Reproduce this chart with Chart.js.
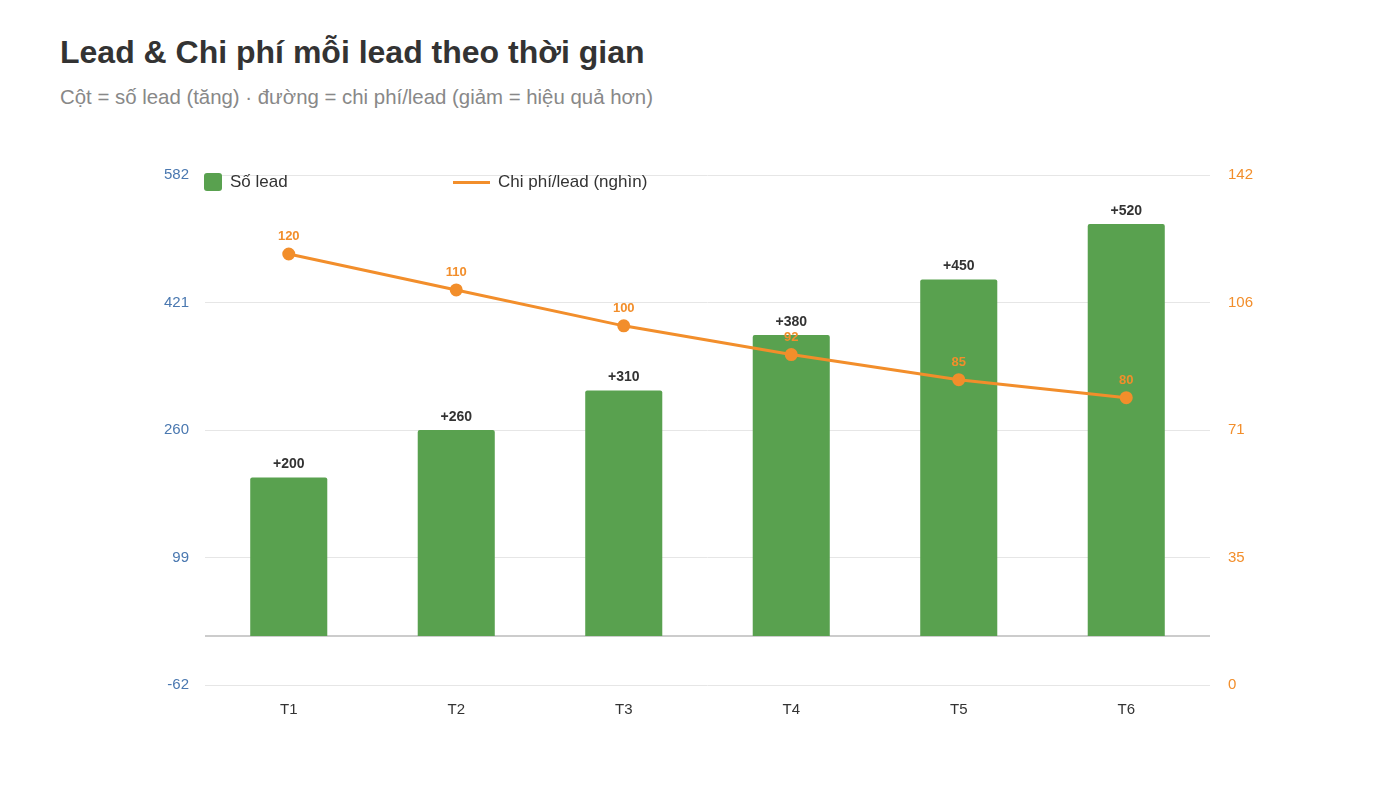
<!DOCTYPE html>
<html>
<head>
    <title>Lead & Chi phí mỗi lead theo thời gian</title>
    <script src="https://cdn.jsdelivr.net/npm/chart.js@4.4.0/dist/chart.umd.min.js"></script>
    <style>
        body {
            margin: 0;
            font-family: "Liberation Sans", Arial, sans-serif;
            background: #fff;
        }
        .wrap {
            position: relative;
            width: 1400px;
            height: 787px;
        }
        h1 {
            position: absolute;
            left: 60px;
            top: 34px;
            margin: 0;
            font-size: 32px;
            font-weight: bold;
            color: #333;
        }
        .sub {
            position: absolute;
            left: 60px;
            top: 86px;
            font-size: 20.4px;
            color: #888;
        }
        canvas {
            position: absolute;
            left: 0;
            top: 0;
        }
        .legend {
            position: absolute;
            top: 172px;
            font-size: 17px;
            color: #333;
            display: flex;
            align-items: center;
        }
        .swatch {
            width: 18px;
            height: 18px;
            background: #59a14f;
            border-radius: 3px;
            margin-right: 8px;
        }
        .lineswatch {
            width: 37px;
            height: 3px;
            background: #f28e2b;
            margin-right: 8px;
        }
    </style>
</head>
<body>
<div class="wrap">
    <h1>Lead &amp; Chi phí mỗi lead theo thời gian</h1>
    <div class="sub">Cột = số lead (tăng) · đường = chi phí/lead (giảm = hiệu quả hơn)</div>
    <canvas id="myChart" width="1400" height="787"></canvas>
    <div class="legend" style="left:204px"><span class="swatch"></span>Số lead</div>
    <div class="legend" style="left:453px"><span class="lineswatch"></span>Chi phí/lead (nghìn)</div>
</div>
<script>
    const months = ['T1', 'T2', 'T3', 'T4', 'T5', 'T6'];
    const leads = [200, 260, 310, 380, 450, 520];
    const costPerLead = [120, 110, 100, 92, 85, 80];
    const leftTicks = [-62, 99, 260, 421, 582];
    const rightTicks = [0, 35.5, 71, 106.5, 142];

    const green = '#59a14f';
    const orange = '#f28e2b';

    // zero line + value labels
    const extras = {
        id: 'extras',
        beforeDatasetsDraw(chart) {
            const ctx = chart.ctx;
            const area = chart.chartArea;
            const y0 = chart.scales.y.getPixelForValue(0);
            ctx.save();
            ctx.strokeStyle = '#bbbbbb';
            ctx.lineWidth = 1.5;
            ctx.beginPath();
            ctx.moveTo(area.left, y0);
            ctx.lineTo(area.right, y0);
            ctx.stroke();
            ctx.restore();
        },
        afterDatasetsDraw(chart) {
            const ctx = chart.ctx;
            ctx.save();
            ctx.textAlign = 'center';
            ctx.textBaseline = 'bottom';
            chart.getDatasetMeta(0).data.forEach((bar, i) => {
                ctx.fillStyle = '#333';
                ctx.font = 'bold 14px "Liberation Sans", Arial, sans-serif';
                ctx.fillText('+' + leads[i], bar.x, bar.y - 6);
            });
            chart.getDatasetMeta(1).data.forEach((pt, i) => {
                ctx.fillStyle = orange;
                ctx.font = 'bold 13px "Liberation Sans", Arial, sans-serif';
                ctx.fillText(costPerLead[i], pt.x, pt.y - 11);
            });
            ctx.restore();
        }
    };

    const ctx = document.getElementById('myChart').getContext('2d');
    new Chart(ctx, {
        data: {
            labels: months,
            datasets: [{
                type: 'bar',
                label: 'Số lead',
                data: leads,
                backgroundColor: green,
                borderRadius: 2,
                borderSkipped: 'bottom',
                barPercentage: 0.46,
                categoryPercentage: 1,
                yAxisID: 'y',
                order: 2
            }, {
                type: 'line',
                label: 'Chi phí/lead (nghìn)',
                data: costPerLead,
                borderColor: orange,
                backgroundColor: orange,
                borderWidth: 3,
                pointRadius: 5,
                pointHoverRadius: 5,
                tension: 0,
                yAxisID: 'y1',
                order: 1
            }]
        },
        options: {
            responsive: false,
            animation: false,
            layout: {
                padding: { left: 140, right: 130, top: 175, bottom: 62 }
            },
            plugins: {
                legend: { display: false },
                tooltip: { enabled: false }
            },
            scales: {
                x: {
                    grid: { display: false },
                    border: { display: false },
                    ticks: {
                        color: '#333',
                        font: { size: 15, family: '"Liberation Sans", Arial, sans-serif' },
                        padding: 8
                    },
                    afterFit(scale) { scale.height = 40; }
                },
                y: {
                    position: 'left',
                    min: leftTicks[0],
                    max: leftTicks[leftTicks.length - 1],
                    afterBuildTicks(scale) {
                        scale.ticks = leftTicks.map(v => ({ value: v }));
                    },
                    grid: { color: '#e6e6e6', drawTicks: false, lineWidth: 1 },
                    border: { display: false },
                    ticks: {
                        color: '#4a78b0',
                        font: { size: 15, family: '"Liberation Sans", Arial, sans-serif' },
                        padding: 16
                    },
                    afterFit(scale) { scale.width = 65; }
                },
                y1: {
                    position: 'right',
                    min: rightTicks[0],
                    max: rightTicks[rightTicks.length - 1],
                    afterBuildTicks(scale) {
                        scale.ticks = rightTicks.map(v => ({ value: v }));
                    },
                    grid: { display: false },
                    border: { display: false },
                    ticks: {
                        color: orange,
                        font: { size: 15, family: '"Liberation Sans", Arial, sans-serif' },
                        padding: 10,
                        callback: v => Math.floor(v)
                    },
                    afterFit(scale) { scale.width = 60; }
                }
            }
        },
        plugins: [extras]
    });
</script>
</body>
</html>
